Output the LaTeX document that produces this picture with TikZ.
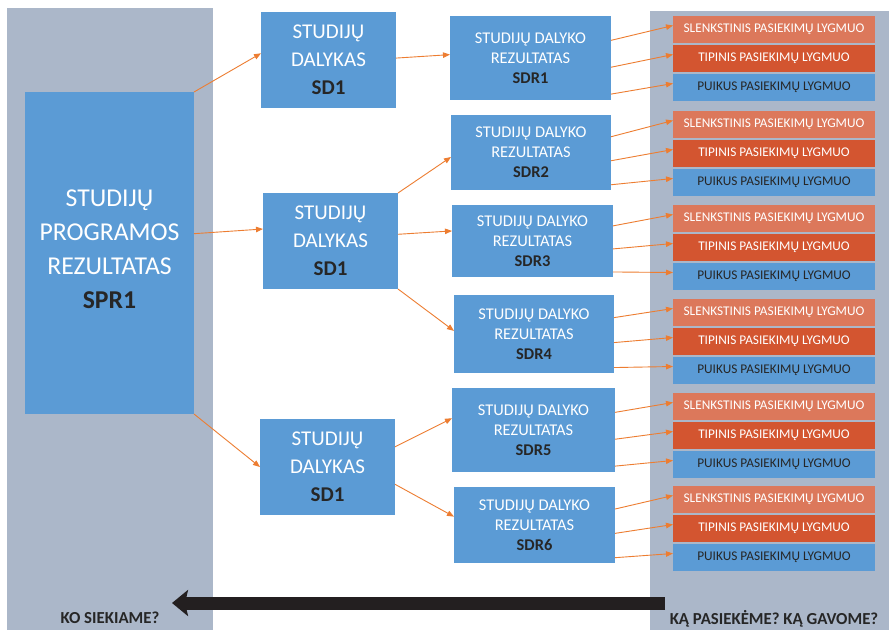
\documentclass[tikz,border=0pt]{standalone}
\usepackage{fontspec}
\setmainfont{Carlito}
\usetikzlibrary{arrows.meta,calc}
\definecolor{bl}{HTML}{5B9BD5}
\definecolor{gr}{HTML}{ABB7C9}
\definecolor{sl}{HTML}{DC785B}
\definecolor{tp}{HTML}{D35530}
\definecolor{orr}{HTML}{ED7D31}
\definecolor{dk}{HTML}{262626}
\definecolor{blk}{HTML}{231F20}
\tikzset{
  bx/.style={fill=bl, inner sep=0pt, outer sep=0pt, anchor=north west, align=center, text=white},
  sdbox/.style={bx, minimum width=135pt, minimum height=96pt, font=\fontsize{21}{28}\selectfont},
  sdrbox/.style={bx, font=\fontsize{16.4}{20}\selectfont},
  lev/.style={inner sep=0pt, outer sep=0pt, anchor=north west, minimum width=202pt, minimum height=27pt, font=\fontsize{13.3}{15}\selectfont},
  con/.style={draw=orr, line width=0.9pt, -{Triangle[length=7pt,width=5.5pt]}},
  lbl/.style={inner sep=0pt, text=dk, font=\fontsize{16.8}{18}\selectfont\bfseries},
}
\newcommand\lvgroup[2]{%
  \node[lev, fill=sl, text=white] (l#1s) at (673,#2) {SLENKSTINIS PASIEKIMŲ LYGMUO};
  \node[lev, fill=tp, text=white] (l#1t) at (673,#2+29) {TIPINIS PASIEKIMŲ LYGMUO};
  \node[lev, fill=bl, text=dk] (l#1p) at (673,#2+58) {PUIKUS PASIEKIMŲ LYGMUO};}
\begin{document}
\begin{tikzpicture}[x=1pt,y=-1pt]
\useasboundingbox (0,0) rectangle (889,630);
\fill[white] (0,0) rectangle (889,630);
\fill[gr] (7,8) rectangle (213,630);
\fill[gr] (650,11) rectangle (889,630);

\node[bx, minimum width=169pt, minimum height=322pt, font=\fontsize{25.7}{34}\selectfont] (spr) at (25,92)
  {STUDIJŲ\\PROGRAMOS\\REZULTATAS\\\textcolor{dk}{\textbf{SPR1}}\\[-26pt]\mbox{}};

\node[sdbox] (sd1a) at (261,12) {STUDIJŲ\\DALYKAS\\\textcolor{dk}{\textbf{SD1}}};
\node[sdbox] (sd1b) at (263,193) {STUDIJŲ\\DALYKAS\\\textcolor{dk}{\textbf{SD1}}};
\node[sdbox] (sd1c) at (260,419) {STUDIJŲ\\DALYKAS\\\textcolor{dk}{\textbf{SD1}}};

\node[sdrbox, minimum width=161pt, minimum height=84pt] (sdr1) at (450,16) {STUDIJŲ DALYKO\\REZULTATAS\\\textcolor{dk}{\textbf{SDR1}}};
\node[sdrbox, minimum width=160pt, minimum height=75pt] (sdr2) at (451,115) {STUDIJŲ DALYKO\\REZULTATAS\\\textcolor{dk}{\textbf{SDR2}}};
\node[sdrbox, minimum width=161pt, minimum height=72pt] (sdr3) at (452,205) {STUDIJŲ DALYKO\\REZULTATAS\\\textcolor{dk}{\textbf{SDR3}}};
\node[sdrbox, minimum width=160pt, minimum height=78pt] (sdr4) at (454,295) {STUDIJŲ DALYKO\\REZULTATAS\\\textcolor{dk}{\textbf{SDR4}}};
\node[sdrbox, minimum width=163pt, minimum height=84pt] (sdr5) at (452,388) {STUDIJŲ DALYKO\\REZULTATAS\\\textcolor{dk}{\textbf{SDR5}}};
\node[sdrbox, minimum width=161pt, minimum height=76pt] (sdr6) at (454,487) {STUDIJŲ DALYKO\\REZULTATAS\\\textcolor{dk}{\textbf{SDR6}}};

\lvgroup{1}{16}
\lvgroup{2}{111}
\lvgroup{3}{205}
\lvgroup{4}{299}
\lvgroup{5}{393}
\lvgroup{6}{486}

\draw[con] (spr.north east) -- ($(sd1a.north west)!0.43!(sd1a.south west)$);
\draw[con] ($(spr.north east)!0.44!(spr.south east)$) -- ($(sd1b.north west)!0.375!(sd1b.south west)$);
\draw[con] (spr.south east) -- (sd1c.west);
\draw[con] ($(sd1a.north east)!0.48!(sd1a.south east)$) -- ($(sdr1.north west)!0.46!(sdr1.south west)$);
\draw[con] (sd1b.north east) -- ($(sdr2.north west)!0.56!(sdr2.south west)$);
\draw[con] ($(sd1b.north east)!0.43!(sd1b.south east)$) -- ($(sdr3.north west)!0.36!(sdr3.south west)$);
\draw[con] (sd1b.south east) -- ($(sdr4.north west)!0.46!(sdr4.south west)$);
\draw[con] ($(sd1c.north east)!0.29!(sd1c.south east)$) -- ($(sdr5.north west)!0.36!(sdr5.south west)$);
\draw[con] ($(sd1c.north east)!0.68!(sd1c.south east)$) -- ($(sdr6.north west)!0.39!(sdr6.south west)$);

\foreach \i in {1,...,6}{
  \draw[con] ($(sdr\i.north east)!0.29!(sdr\i.south east)$) -- ([yshift=4pt]l\i s.west);
  \draw[con] ($(sdr\i.north east)!0.61!(sdr\i.south east)$) -- ([yshift=4pt]l\i t.west);
  \draw[con] ($(sdr\i.north east)!0.93!(sdr\i.south east)$) -- ([yshift=4pt]l\i p.west);
}

\coordinate (arS) at (665,603);
\coordinate (arE) at (172,603);
\draw[blk, line width=13pt, -{Stealth[length=16pt,width=26pt,inset=3pt]}] (arS) -- (arE);

\node[lbl, anchor=base] (q1) at (110,623) {KO SIEKIAME?};
\node[lbl, anchor=base] (q2) at (774,624) {KĄ PASIEKĖME? KĄ GAVOME?};
\end{tikzpicture}
\end{document}
